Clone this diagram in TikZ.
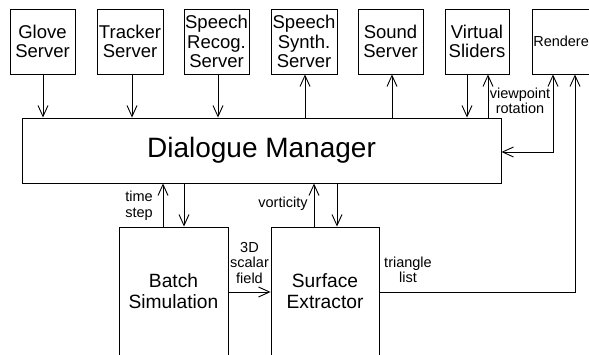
\documentclass[tikz,border=0pt]{standalone}
\usepackage{fontspec}
\setmainfont{Liberation Sans}
\usetikzlibrary{arrows.meta,calc}

\tikzset{
  box/.style={draw, line width=0.9pt, rectangle, inner sep=0pt, align=center,
              font=\fontsize{18.5}{19.5}\selectfont},
  bigtxt/.style={align=center, inner sep=0pt, font=\fontsize{19.2}{21}\selectfont},
  lbl/.style={inner sep=0pt, font=\fontsize{14.5}{15.5}\selectfont},
  conn/.style={line width=0.9pt},
  arr/.style={conn, -{Straight Barb[length=11pt,width=10pt,line width=0.9pt]}},
  arrboth/.style={conn, {Straight Barb[length=11pt,width=10pt,line width=0.9pt]}-{Straight Barb[length=11pt,width=10pt,line width=0.9pt]}}
}

\begin{document}
\begin{tikzpicture}[x=1pt,y=-1pt]
\useasboundingbox (0,0) rectangle (589,355);
\clip (0,0) rectangle (589,355);
\fill[white] (0,0) rectangle (589,355);

% server row
\node[box, minimum width=65pt, minimum height=65pt] (glove)   at (42.5,41.5) {Glove\\Server};
\node[box, minimum width=66pt, minimum height=65pt] (tracker) at (130,41.5)  {Tracker\\Server};
\node[box, minimum width=65pt, minimum height=65pt] (recog)   at (216.5,41.5) {Speech\\Recog.\\Server};
\node[box, minimum width=66pt, minimum height=65pt] (synth)   at (304,41.5)  {Speech\\Synth.\\Server};
\node[box, minimum width=65pt, minimum height=65pt] (sound)   at (390.5,41.5) {Sound\\Server};
\node[box, minimum width=64pt, minimum height=65pt] (sliders) at (477,41.5)  {Virtual\\Sliders};
\node[box, minimum width=63pt, minimum height=65pt, font=\fontsize{14.5}{16}\selectfont]
     (renderer) at (563.5,41.5) {Renderer};

% central manager
\node[box, minimum width=479pt, minimum height=65pt, font=\fontsize{28}{30}\selectfont]
     (dm) at (261.5,150.5) {Dialogue Manager};

% computation boxes (run off the bottom edge)
\node[box, minimum width=109pt, minimum height=163pt] (batch)   at (173.5,308.5) {};
\node[box, minimum width=108pt, minimum height=163pt] (surface) at (325,308.5) {};
\node[bigtxt] (batchtxt)   at (173.5,291) {Batch\\Simulation};
\node[bigtxt] (surfacetxt) at (325,291) {Surface\\Extractor};

% servers <-> manager
\draw[arr] ([xshift=0.5pt]glove.south) -- ([xshift=0.5pt]glove.south |- dm.north);
\draw[arr] ([xshift=2pt]tracker.south) -- ([xshift=2pt]tracker.south |- dm.north);
\draw[arr] ([xshift=1.5pt]recog.south) -- ([xshift=1.5pt]recog.south |- dm.north);
\draw[arr] ([xshift=1pt]synth.south |- dm.north) -- ([xshift=1pt]synth.south);
\draw[arr] ([xshift=1.5pt]sound.south |- dm.north) -- ([xshift=1.5pt]sound.south);
\draw[arr] ([xshift=-10pt]sliders.south) -- ([xshift=-10pt]sliders.south |- dm.north);
\draw[arr] ([xshift=11pt]sliders.south |- dm.north) -- ([xshift=11pt]sliders.south);
\draw[arrboth] ([xshift=-10.5pt]renderer.south) |- ([yshift=-1.5pt]dm.east);

% manager <-> computation
\draw[arr] ([xshift=-10.5pt]batch.north) -- ([xshift=-10.5pt]batch.north |- dm.south);
\draw[arr] ([xshift=10.5pt]batch.north |- dm.south) -- ([xshift=10.5pt]batch.north);
\draw[arr] ([xshift=-11pt]surface.north) -- ([xshift=-11pt]surface.north |- dm.south);
\draw[arr] ([xshift=12pt]surface.north |- dm.south) -- ([xshift=12pt]surface.north);

% data flow
\draw[arr] ([yshift=16.5pt]batch.east) -- ([yshift=16.5pt]surface.west);
\draw[arr] ([yshift=16.5pt]surface.east) -| ([xshift=11.5pt]renderer.south);

% labels
\node[lbl, align=center] (lview) at (520,101) {viewpoint\\rotation};
\node[lbl, align=left]   (ltime) at (139,206) {time\\step};
\node[lbl]               (lvort) at (283,204) {vorticity};
\node[lbl, align=center] (lscal) at (249.5,263) {3D\\scalar\\field};
\node[lbl, align=center] (ltri)  at (408,270) {triangle\\list};
\end{tikzpicture}
\end{document}
